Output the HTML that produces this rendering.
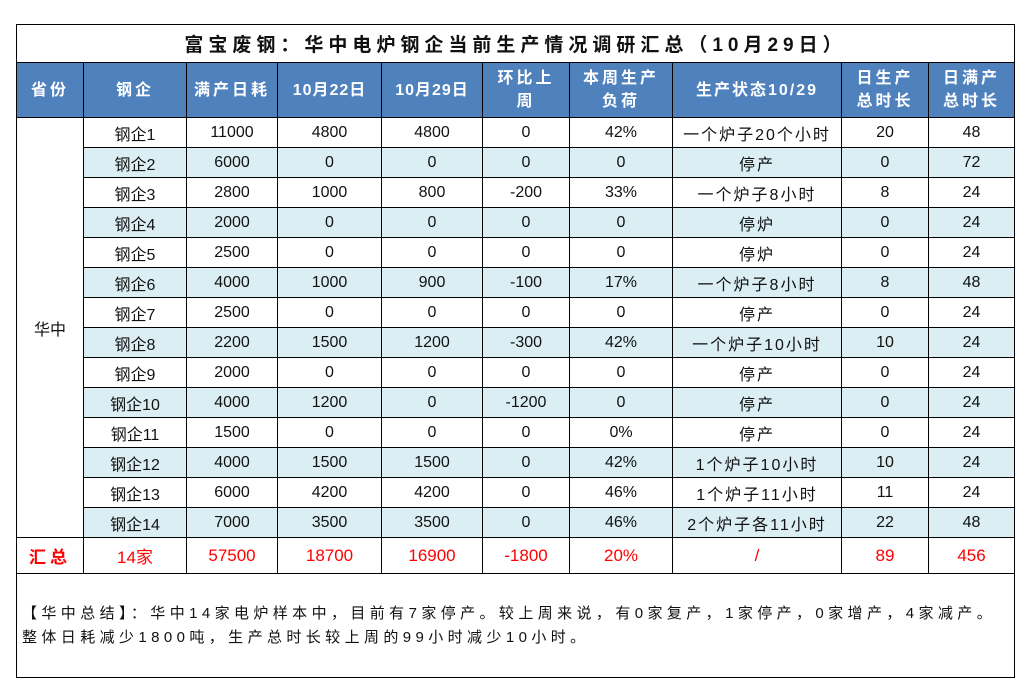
<!DOCTYPE html>
<html><head><meta charset="utf-8">
<style>
body{margin:0;background:#fff;width:1030px;height:694px;position:relative;font-family:"Liberation Sans","Noto Sans CJK SC",sans-serif;}
table{position:absolute;left:16px;top:24px;border-collapse:collapse;table-layout:fixed;width:998px;}
td{border:1px solid #000;text-align:center;font-size:16px;padding:0;color:#111;white-space:nowrap;overflow:hidden;}
.t td{height:37px;font-size:19px;font-weight:bold;letter-spacing:5px;}
.h td{background:#4f81bd;color:#fff;font-weight:bold;height:54px;font-size:16px;letter-spacing:3px;line-height:23px;}
tr.r td{height:29px;}
tr.b td.c{background:#daeef3;}
.s td{height:35px;color:#f00;font-size:17px;}
.n td{height:103px;text-align:left;font-size:15px;letter-spacing:4.4px;line-height:24px;padding-left:5px;vertical-align:middle;}
.st{letter-spacing:2px;}
</style></head><body>
<table>
<colgroup><col style="width:67px"><col style="width:103px"><col style="width:91px"><col style="width:104px"><col style="width:101px"><col style="width:87px"><col style="width:103px"><col style="width:169px"><col style="width:87px"><col style="width:86px"></colgroup>
<tr class="t"><td colspan="10">富宝废钢：华中电炉钢企当前生产情况调研汇总（10月29日）</td></tr>
<tr class="h"><td>省份</td><td>钢企</td><td>满产日耗</td><td style="letter-spacing:1px">10月22日</td><td style="letter-spacing:1px">10月29日</td><td>环比上<br>周</td><td>本周生产<br>负荷</td><td style="letter-spacing:2px">生产状态10/29</td><td>日生产<br>总时长</td><td>日满产<br>总时长</td></tr>
<tr class="r"><td rowspan="14">华中</td><td class="c">钢企1</td><td class="c">11000</td><td class="c">4800</td><td class="c">4800</td><td class="c">0</td><td class="c">42%</td><td class="c st">一个炉子20个小时</td><td class="c">20</td><td class="c">48</td></tr>
<tr class="r b"><td class="c">钢企2</td><td class="c">6000</td><td class="c">0</td><td class="c">0</td><td class="c">0</td><td class="c">0</td><td class="c st">停产</td><td class="c">0</td><td class="c">72</td></tr>
<tr class="r"><td class="c">钢企3</td><td class="c">2800</td><td class="c">1000</td><td class="c">800</td><td class="c">-200</td><td class="c">33%</td><td class="c st">一个炉子8小时</td><td class="c">8</td><td class="c">24</td></tr>
<tr class="r b"><td class="c">钢企4</td><td class="c">2000</td><td class="c">0</td><td class="c">0</td><td class="c">0</td><td class="c">0</td><td class="c st">停炉</td><td class="c">0</td><td class="c">24</td></tr>
<tr class="r"><td class="c">钢企5</td><td class="c">2500</td><td class="c">0</td><td class="c">0</td><td class="c">0</td><td class="c">0</td><td class="c st">停炉</td><td class="c">0</td><td class="c">24</td></tr>
<tr class="r b"><td class="c">钢企6</td><td class="c">4000</td><td class="c">1000</td><td class="c">900</td><td class="c">-100</td><td class="c">17%</td><td class="c st">一个炉子8小时</td><td class="c">8</td><td class="c">48</td></tr>
<tr class="r"><td class="c">钢企7</td><td class="c">2500</td><td class="c">0</td><td class="c">0</td><td class="c">0</td><td class="c">0</td><td class="c st">停产</td><td class="c">0</td><td class="c">24</td></tr>
<tr class="r b"><td class="c">钢企8</td><td class="c">2200</td><td class="c">1500</td><td class="c">1200</td><td class="c">-300</td><td class="c">42%</td><td class="c st">一个炉子10小时</td><td class="c">10</td><td class="c">24</td></tr>
<tr class="r"><td class="c">钢企9</td><td class="c">2000</td><td class="c">0</td><td class="c">0</td><td class="c">0</td><td class="c">0</td><td class="c st">停产</td><td class="c">0</td><td class="c">24</td></tr>
<tr class="r b"><td class="c">钢企10</td><td class="c">4000</td><td class="c">1200</td><td class="c">0</td><td class="c">-1200</td><td class="c">0</td><td class="c st">停产</td><td class="c">0</td><td class="c">24</td></tr>
<tr class="r"><td class="c">钢企11</td><td class="c">1500</td><td class="c">0</td><td class="c">0</td><td class="c">0</td><td class="c">0%</td><td class="c st">停产</td><td class="c">0</td><td class="c">24</td></tr>
<tr class="r b"><td class="c">钢企12</td><td class="c">4000</td><td class="c">1500</td><td class="c">1500</td><td class="c">0</td><td class="c">42%</td><td class="c st">1个炉子10小时</td><td class="c">10</td><td class="c">24</td></tr>
<tr class="r"><td class="c">钢企13</td><td class="c">6000</td><td class="c">4200</td><td class="c">4200</td><td class="c">0</td><td class="c">46%</td><td class="c st">1个炉子11小时</td><td class="c">11</td><td class="c">24</td></tr>
<tr class="r b"><td class="c">钢企14</td><td class="c">7000</td><td class="c">3500</td><td class="c">3500</td><td class="c">0</td><td class="c">46%</td><td class="c st">2个炉子各11小时</td><td class="c">22</td><td class="c">48</td></tr>
<tr class="s"><td style="font-weight:bold;letter-spacing:4px">汇总</td><td>14家</td><td>57500</td><td>18700</td><td>16900</td><td>-1800</td><td>20%</td><td>/</td><td>89</td><td>456</td></tr>
<tr class="n"><td colspan="10">【华中总结】：华中14家电炉样本中，目前有7家停产。较上周来说，有0家复产，1家停产，0家增产，4家减产。<br>整体日耗减少1800吨，生产总时长较上周的99小时减少10小时。</td></tr>
</table>
</body></html>
